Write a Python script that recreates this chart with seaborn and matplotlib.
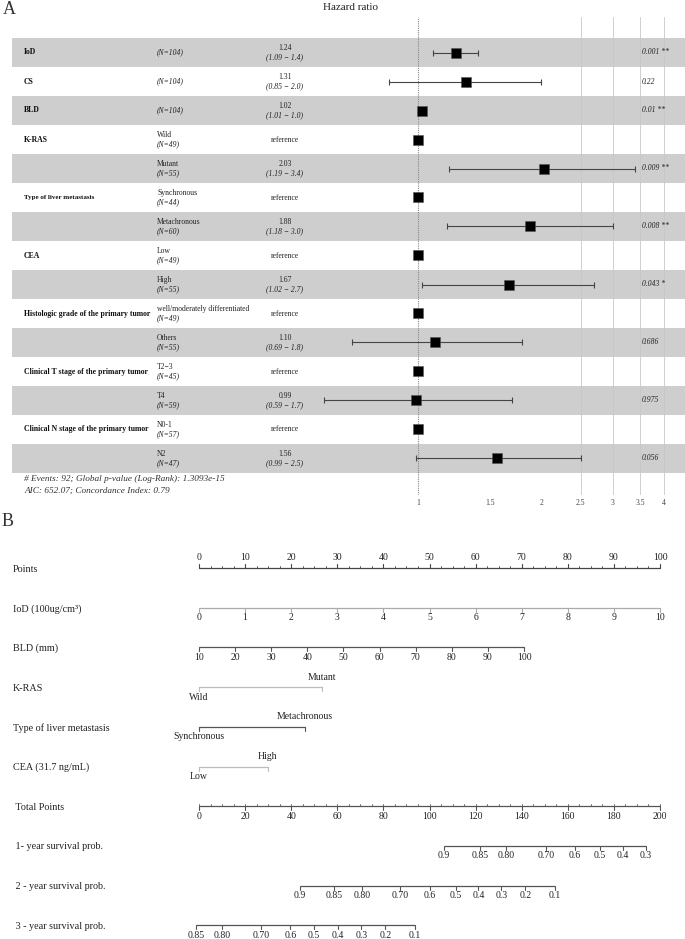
import matplotlib
matplotlib.use("Agg")
import matplotlib.pyplot as plt
import matplotlib.transforms as mtransforms
import numpy as np
import pandas as pd
import seaborn as sns

# ---- A: forest plot data ----
variables = ["IoD", "CS", "BLD", "K-RAS", "", "Type of liver metastasis", "", "CEA", "",
             "Histologic grade of the primary tumor", "", "Clinical T stage of the primary tumor", "",
             "Clinical N stage of the primary tumor", ""]
levels = ["", "", "", "Wild", "Mutant", "Synchronous", "Metachronous", "Low", "High",
          "well/moderately differentiated", "Others", "T2\u22123", "T4", "N0-1", "N2"]
n_obs = [104, 104, 104, 49, 55, 44, 60, 49, 55, 49, 55, 45, 59, 57, 47]
hr = [1.24, 1.31, 1.02, 1.0, 2.03, 1.0, 1.88, 1.0, 1.67, 1.0, 1.10, 1.0, 0.99, 1.0, 1.56]
ci_low = [1.09, 0.85, 1.01, np.nan, 1.19, np.nan, 1.18, np.nan, 1.02, np.nan, 0.69, np.nan, 0.59, np.nan, 0.99]
ci_high = [1.4, 2.0, 1.03, np.nan, 3.4, np.nan, 3.0, np.nan, 2.7, np.nan, 1.8, np.nan, 1.7, np.nan, 2.5]
p_values = ["0.001", "0.22", "0.01", "", "0.009", "", "0.008", "", "0.043", "", "0.686", "", "0.975", "", "0.056"]
stars = ["**", "", "**", "", "**", "", "**", "", "*", "", "", "", "", "", ""]
hr_ticks = [1, 1.5, 2, 2.5, 3, 3.5, 4]
hr_grid = [2.5, 3, 3.5, 4]
footnote = ["# Events: 92; Global p-value (Log-Rank): 1.3093e-15",
            "AIC: 652.07; Concordance Index: 0.79"]

# ---- B: nomogram data ----
points_ticks = list(range(0, 101, 10))
iod_ticks = list(range(0, 11))
iod_max_points = 100
bld_ticks = list(range(10, 101, 10))
bld_max_points = 70.5
kras_levels = ["Wild", "Mutant"]
kras_points = [0, 26.7]
liver_levels = ["Synchronous", "Metachronous"]
liver_points = [0, 23.0]
cea_levels = ["Low", "High"]
cea_points = [0, 14.9]
total_ticks = list(range(0, 201, 20))
surv1_labels = ["0.9", "0.85", "0.80", "0.70", "0.6", "0.5", "0.4", "0.3"]
surv1_total = [106.3, 121.9, 133.2, 150.5, 163.1, 174.0, 183.9, 193.9]
surv2_labels = ["0.9", "0.85", "0.80", "0.70", "0.6", "0.5", "0.4", "0.3", "0.2", "0.1"]
surv2_total = [43.8, 58.6, 70.7, 87.4, 100.2, 111.3, 121.2, 131.2, 141.6, 154.4]
surv3_labels = ["0.85", "0.80", "0.70", "0.6", "0.5", "0.4", "0.3", "0.2", "0.1"]
surv3_total = [-1.3, 10.1, 27.0, 39.6, 50.0, 60.4, 70.4, 80.8, 93.8]

sns.set_style("white")
plt.rcParams["font.family"] = ["Liberation Serif", "DejaVu Serif"]

W, H = 685, 939
fig = plt.figure(figsize=(W / 100, H / 100), dpi=100)


def fx(px):
    return px / W


def fy(py):
    return 1 - py / H


# ================= A =================
fig.text(fx(3), fy(10), "A", fontsize=13, va="center", ha="left", color="#333")
fig.text(fx(350), fy(7), "Hazard ratio", fontsize=8, va="center", ha="center", color="#222")

row_h = 29
top_px, bot_px = 17, 495
first_c = 52.5
ax1 = fig.add_axes([fx(12), fy(bot_px), fx(673), (bot_px - top_px) / H])
ax1.set_xscale("log")
ax1.set_xlim(0.1015, 4.50)
ax1.set_ylim((bot_px - first_c) / row_h, (top_px - first_c) / row_h)
for s in ax1.spines.values():
    s.set_visible(False)

df = pd.DataFrame({"var": variables, "level": levels, "n": n_obs, "hr": hr,
                   "lo": ci_low, "hi": ci_high, "p": p_values, "star": stars})
df["row"] = np.arange(len(df))

for r in df["row"]:
    if r % 2 == 0:
        ax1.axhspan(r - 0.5, r + 0.5, color="#cecece", lw=0, zorder=0)
for g in hr_grid:
    ax1.axvline(g, color="#c8c8c8", lw=0.6, zorder=1)
ax1.axvline(1, color="#888", lw=0.8, ls=(0, (1, 1)), zorder=1)

ci = df.dropna(subset=["lo"])
ax1.errorbar(ci["hr"], ci["row"], xerr=[ci["hr"] - ci["lo"], ci["hi"] - ci["hr"]],
             fmt="none", ecolor="#444", elinewidth=0.8, capsize=2, capthick=0.8, zorder=2)
sns.scatterplot(data=df, x="hr", y="row", marker="s", s=62, color="black",
                edgecolor="#555", linewidth=0.4, ax=ax1, zorder=3, legend=False)

ax1.set_xticks(hr_ticks)
ax1.set_xticklabels([f"{t:g}" for t in hr_ticks])
ax1.xaxis.set_minor_locator(matplotlib.ticker.NullLocator())
ax1.tick_params(axis="x", length=0, labelsize=5.5, labelcolor="#444", pad=3)
ax1.set_yticks([])
ax1.set_xlabel("")
ax1.set_ylabel("")

tr = mtransforms.blended_transform_factory(fig.transFigure, ax1.transData)
for _, d in df.iterrows():
    r = d["row"]
    if d["var"]:
        fs = 5.0 if d["var"].startswith("Type") else 5.6
        ax1.text(fx(24), r, d["var"], transform=tr, fontsize=fs, fontweight="bold",
                 va="center", ha="left", color="#111")
    ntxt = f"(N={d['n']})"
    if d["level"]:
        ax1.text(fx(157), r - 0.17, d["level"], transform=tr, fontsize=5.5, va="center", color="#222")
        ax1.text(fx(157), r + 0.17, ntxt, transform=tr, fontsize=5.5, style="italic", va="center", color="#222")
    else:
        ax1.text(fx(157), r, ntxt, transform=tr, fontsize=5.5, style="italic", va="center", color="#222")
    if np.isnan(d["lo"]):
        ax1.text(fx(285), r, "reference", transform=tr, fontsize=5.5, va="center", ha="center", color="#222")
    else:
        ax1.text(fx(285), r - 0.17, f"{d['hr']:.2f}", transform=tr, fontsize=5.5,
                 va="center", ha="center", color="#222")
        ax1.text(fx(285), r + 0.17, f"({d['lo']:.2f} \u2212 {d['hi']:.1f})", transform=tr,
                 fontsize=5.5, style="italic", va="center", ha="center", color="#222")
    if d["p"]:
        ax1.text(fx(642), r, f"{d['p']} {d['star']}".strip(), transform=tr, fontsize=5.5,
                 style="italic", va="center", ha="left", color="#222")

fig.text(fx(24), fy(479), footnote[0], fontsize=6.7, style="italic", va="center", color="#333")
fig.text(fx(24), fy(491), footnote[1], fontsize=6.7, style="italic", va="center", color="#333")

# ================= B =================
fig.text(fx(2), fy(521), "B", fontsize=13, va="center", ha="left", color="#333")

x0_px, x100_px = 199, 660
ppp = (x100_px - x0_px) / 100
ax2 = fig.add_axes([0, 0, 1, fy(512)])
ax2.set_xlim(-x0_px / ppp, (W - x0_px) / ppp)
ax2.set_ylim(H, 512)
ax2.axis("off")
ax2.patch.set_alpha(0)

row0, step = 568, 39.7
rows_y = [row0 + step * i for i in range(10)]
row_names = ["Points", "IoD (100ug/cm\u00b3)", "BLD (mm)", "K-RAS", "Type of liver metastasis",
             "CEA (31.7 ng/mL)", " Total Points", " 1- year survival prob.",
             " 2 - year survival prob.", " 3 - year survival prob."]
for name, y in zip(row_names, rows_y):
    ax2.text(-x0_px / ppp + 13 / ppp, y + 1, name, fontsize=7.3, va="center", ha="left", color="#222")

TL = 4  # tick length in pixels
FS = 7


def scale(y, pos, labels, color="#555", up=False, lab_above=False, minor=None, minor_up=False):
    ax2.plot([min(pos), max(pos)], [y, y], color=color, lw=0.9, solid_capstyle="butt")
    d = -TL if up else TL
    for p in pos:
        ax2.plot([p, p], [y, y + d], color=color, lw=0.8)
    if minor is not None:
        dm = -2.5 if minor_up else 2.5
        for p in minor:
            ax2.plot([p, p], [y, y + dm], color=color, lw=0.6)
    ly = y - 10 if lab_above else y + 10
    for p, lab in zip(pos, labels):
        ax2.text(p, ly, lab, fontsize=FS, ha="center", va="center", color="#222")


# Points
scale(rows_y[0], points_ticks, [str(t) for t in points_ticks], color="#444", up=True,
      lab_above=True, minor=np.arange(0, 100.1, 2.5), minor_up=True)
# IoD
scale(rows_y[1], [t * iod_max_points / 10 for t in iod_ticks], [str(t) for t in iod_ticks], color="#aaa")
# BLD
bld_pos = [(t - 10) / 90 * bld_max_points for t in bld_ticks]
scale(rows_y[2], bld_pos, [str(t) for t in bld_ticks], color="#555")


def categorical(y, pos, labels, color):
    ax2.plot([pos[0], pos[1]], [y, y], color=color, lw=0.9)
    for p in pos:
        ax2.plot([p, p], [y, y + TL], color=color, lw=0.8)
    ax2.text(pos[0], y + 10, labels[0], fontsize=FS, ha="center", va="center", color="#222")
    ax2.text(pos[1], y - 10, labels[1], fontsize=FS, ha="center", va="center", color="#222")


categorical(rows_y[3], kras_points, kras_levels, "#bbb")
categorical(rows_y[4], liver_points, liver_levels, "#555")
categorical(rows_y[5], cea_points, cea_levels, "#bbb")

# Total points
scale(rows_y[6], [t / 2 for t in total_ticks], [str(t) for t in total_ticks], color="#555",
      minor=np.arange(0, 100.1, 2.5), minor_up=True)
# Survival
scale(rows_y[7], [t / 2 for t in surv1_total], surv1_labels, color="#555")
scale(rows_y[8], [t / 2 for t in surv2_total], surv2_labels, color="#555")
scale(rows_y[9], [t / 2 for t in surv3_total], surv3_labels, color="#555")

fig.savefig("out.png", dpi=100)
